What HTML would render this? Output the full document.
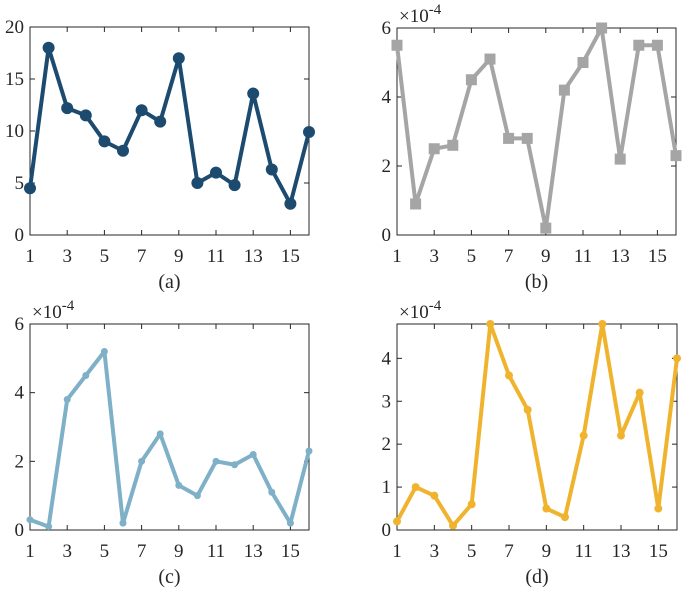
<!DOCTYPE html>
<html><head><meta charset="utf-8"><style>
body{margin:0;background:#fff;}
text{font-family:"Liberation Serif","Times New Roman",serif;fill:#262626;}
</style></head><body>
<svg id="fig" width="685" height="592" font-family="Liberation Serif, Times New Roman, serif"></svg>
<script>
const categories=[1,2,3,4,5,6,7,8,9,10,11,12,13,14,15,16];
const xTickLabels=[1,3,5,7,9,11,13,15];
const seriesA=[4.5,18,12.2,11.5,9,8.1,12,10.9,17,5,6,4.8,13.6,6.3,3,9.9];
const seriesB=[5.5,0.9,2.5,2.6,4.5,5.1,2.8,2.8,0.2,4.2,5.0,6.0,2.2,5.5,5.5,2.3];
const seriesC=[0.3,0.1,3.8,4.5,5.2,0.2,2.0,2.8,1.3,1.0,2.0,1.9,2.2,1.1,0.2,2.3];
const seriesD=[0.2,1.0,0.8,0.1,0.6,4.8,3.6,2.8,0.5,0.3,2.2,4.8,2.2,3.2,0.5,4.0];
const yTicksA=[0,5,10,15,20];
const yTicksB=[0,2,4,6];
const yTicksC=[0,2,4,6];
const yTicksD=[0,1,2,3,4];

const NS="http://www.w3.org/2000/svg";
const svg=document.getElementById('fig');
const FF="'Liberation Serif','Times New Roman',serif";
function mk(tag,attrs,parent){const e=document.createElementNS(NS,tag);for(const k in attrs)e.setAttribute(k,attrs[k]);if(tag==='text'){e.setAttribute('font-family',FF);e.setAttribute('fill','#262626');}(parent||svg).appendChild(e);return e;}

function panel(id,box,vals,ymax,yTicks,color,marker,caption,exp){
  const g=mk('g',{});
  
  
  const [L,T,R,B]=box;
  const xs=v=>L+(v-1)/15*(R-L);
  const ys=v=>B-v/ymax*(B-T);
  xTickLabels.forEach(t=>{
    mk('line',{x1:xs(t),x2:xs(t),y1:B,y2:B-5,stroke:'#262626','stroke-width':1},g);
    mk('line',{x1:xs(t),x2:xs(t),y1:T,y2:T+5,stroke:'#262626','stroke-width':1},g);
    const tx=mk('text',{x:xs(t),y:B+27,'text-anchor':'middle','font-size':19},g);
    tx.textContent=t;
    
    
  });
  yTicks.forEach(t=>{
    mk('line',{x1:L,x2:L+5,y1:ys(t),y2:ys(t),stroke:'#262626','stroke-width':1},g);
    mk('line',{x1:R,x2:R-5,y1:ys(t),y2:ys(t),stroke:'#262626','stroke-width':1},g);
    const tx=mk('text',{x:L-6,y:ys(t)+6,'text-anchor':'end','font-size':19},g);
    tx.textContent=t;
    
    
  });
  const fr=mk('rect',{x:L,y:T,width:R-L,height:B-T,fill:'none',stroke:'#262626','stroke-width':1},g);
  
  
  const pts=vals.map((v,i)=>xs(categories[i])+','+ys(v)).join(' ');
  const ln=mk('polyline',{points:pts,fill:'none',stroke:color,'stroke-width':4,'stroke-linejoin':'round'},g);
  
  
  vals.forEach((v,i)=>{
    const cx=xs(categories[i]),cy=ys(v);let m;
    if(marker==='circle')m=mk('circle',{cx,cy,r:6,fill:color},g);
    else if(marker==='square')m=mk('rect',{x:cx-5.5,y:cy-5.5,width:11,height:11,fill:color},g);
    else if(marker==='dot')m=mk('circle',{cx,cy,r:3.5,fill:color},g);
    else m=mk('circle',{cx,cy,r:4,fill:color},g);
    
    
  });
  const cap=mk('text',{x:(L+R)/2,y:B+53,'text-anchor':'middle','font-size':20},g);
  cap.textContent=caption;
  
  
  if(exp){
    const e=mk('text',{x:L+2,y:T-6,'font-size':19},g);
    e.textContent='×10';
    const sp=document.createElementNS(NS,'tspan');
    sp.setAttribute('dy','-8');sp.setAttribute('font-size','15');sp.textContent='-4';
    e.appendChild(sp);
    
    
  }
}
panel('a',[30,27,309,235],seriesA,20,yTicksA,'#1d4b6f','circle','(a)',false);
panel('b',[397,28,676,235],seriesB,6,yTicksB,'#a5a5a5','square','(b)',true);
panel('c',[30,324,309,530],seriesC,6,yTicksC,'#7eb0c8','dot','(c)',true);
panel('d',[397,324,677,530],seriesD,4.8,yTicksD,'#f0b32e','star','(d)',true);
</script>
</body></html>
